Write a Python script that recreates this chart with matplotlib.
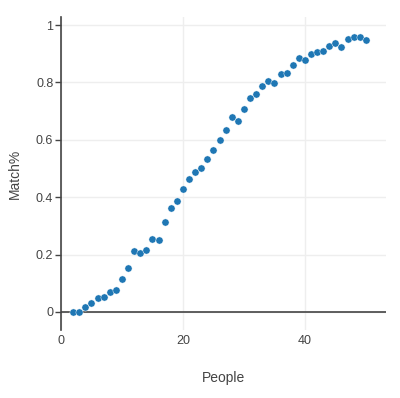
import matplotlib
matplotlib.use("Agg")
import matplotlib.pyplot as plt

plt.rcParams["font.family"] = ["Liberation Sans", "DejaVu Sans"]

# people in the room vs share of trials with a match
people = list(range(2, 51))
match = [0.0, 0.0, 0.018, 0.03, 0.05, 0.051, 0.07, 0.078, 0.116, 0.153,
         0.211, 0.207, 0.215, 0.255, 0.25, 0.314, 0.361, 0.387, 0.428, 0.462,
         0.487, 0.502, 0.534, 0.565, 0.599, 0.635, 0.681, 0.666, 0.706, 0.746,
         0.760, 0.788, 0.804, 0.799, 0.829, 0.834, 0.862, 0.884, 0.878, 0.899,
         0.906, 0.909, 0.928, 0.939, 0.924, 0.952, 0.959, 0.959, 0.948]

xticks = [0, 20, 40]
yticks = [0, 0.2, 0.4, 0.6, 0.8, 1]
ytick_labels = ["0", "0.2", "0.4", "0.6", "0.8", "1"]

fig = plt.figure(figsize=(4, 3.98), dpi=100)
ax = fig.add_axes([0.1525, 0.171, 0.8125, 0.786])

ax.set_xlim(0, 53.3)
ax.set_ylim(-0.063, 1.028)

ax.grid(True, color="#eeeeee", linewidth=1)
ax.set_axisbelow(True)
ax.axhline(0, color="#444444", linewidth=1.2, zorder=1)

ax.plot(people, match, "o", color="#1f77b4", ms=5.2, mec="white", mew=0.3, zorder=3)

for s in ["top", "right", "bottom"]:
    ax.spines[s].set_visible(False)
ax.spines["left"].set_color("#444444")
ax.spines["left"].set_linewidth(1.2)

ax.set_xticks(xticks)
ax.set_yticks(yticks)
ax.set_yticklabels(ytick_labels)
ax.tick_params(axis="x", length=0, pad=4, labelsize=9, labelcolor="#444444")
ax.tick_params(axis="y", length=4, width=1, color="#444444", pad=1.5,
               labelsize=9, labelcolor="#444444")

ax.set_xlabel("People", fontsize=10, color="#444444", labelpad=17)
ax.set_ylabel("Match%", fontsize=10, color="#444444", labelpad=10)

fig.savefig("out.png", dpi=100)
